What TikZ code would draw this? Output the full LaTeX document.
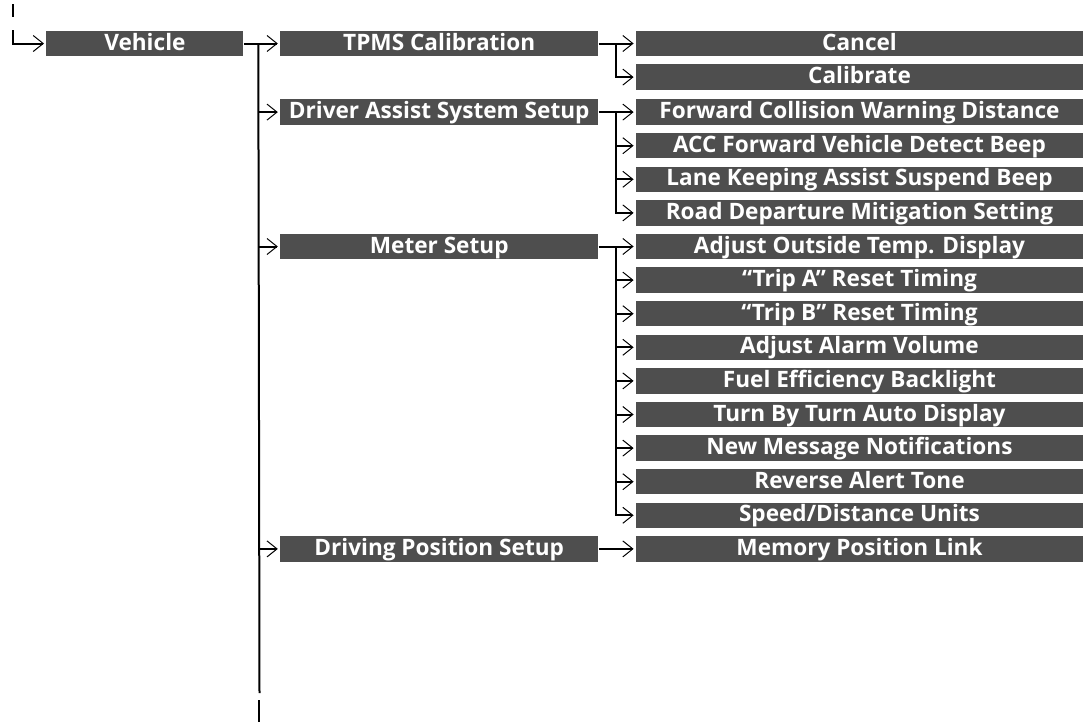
\documentclass[tikz,border=0pt]{standalone}
\usepackage{fontspec}
\setmainfont{Open Sans}
\usetikzlibrary{positioning,arrows.meta}
\definecolor{menugray}{RGB}{78,78,78}

\begin{document}
\begin{tikzpicture}
[x=0.5pt, y=-0.5pt, node distance=3.65pt, font=\bfseries\fontsize{11.3}{12}\selectfont]
\tikzstyle{item}=[fill=menugray, text=white, inner sep=0pt, minimum height=12.75pt, text height=8.1pt, text depth=1.6pt]
\tikzstyle{short}=[item, minimum width=98.5pt]
\tikzstyle{mid}=[item, minimum width=159pt]
\tikzstyle{wide}=[item, minimum width=223.5pt]
\tikzstyle{trunk}=[line width=1pt]
\tikzstyle{link}=[line width=1pt, -{Straight Barb[length=5pt, width=8pt, line width=0.5pt]}, shorten >=1pt]
\useasboundingbox (0,0) rectangle (1086,723);

% third level
\node[wide]	(T1)	at (859.5,43.5)					{Cancel};
\node[wide]	(T2)	[below=of T1]					{Calibrate};
\node[wide]	(D1)	[below=of T2, yshift=-0.7pt]	{Forward Collision Warning Distance};
\node[wide]	(D2)	[below=of D1]					{ACC Forward Vehicle Detect Beep};
\node[wide]	(D3)	[below=of D2]					{Lane Keeping Assist Suspend Beep};
\node[wide]	(D4)	[below=of D3]					{Road Departure Mitigation Setting};
\node[wide]	(M1)	[below=of D4]					{Adjust Outside Temp. Display};
\node[wide]	(M2)	[below=of M1]					{“Trip A” Reset Timing};
\node[wide]	(M3)	[below=of M2]					{“Trip B” Reset Timing};
\node[wide]	(M4)	[below=of M3]					{Adjust Alarm Volume};
\node[wide]	(M5)	[below=of M4]					{Fuel Efficiency Backlight};
\node[wide]	(M6)	[below=of M5]					{Turn By Turn Auto Display};
\node[wide]	(M7)	[below=of M6]					{New Message Notifications};
\node[wide]	(M8)	[below=of M7]					{Reverse Alert Tone};
\node[wide]	(M9)	[below=of M8]					{Speed/Distance Units};
\node[wide]	(P1)	[below=of M9]					{Memory Position Link};

% second level
\node[mid]	(T)		[left=18.5pt of T1]		{TPMS Calibration};
\node[mid]	(D)		[left=18.5pt of D1]		{Driver Assist System Setup};
\node[mid]	(M)		[left=18.5pt of M1]		{Meter Setup};
\node[mid]	(P)		[left=18.5pt of P1]		{Driving Position Setup};

% first level
\node[short]	(V)	[left=18pt of T]		{Vehicle};

\coordinate	(s0)	at (13,4);
\coordinate	(s1)	at (13,17);
\coordinate	(s2)	at (13,30);
\coordinate	(v0)	at ([xshift=7.25pt]V.east);
\coordinate	(v1)	at (259.5,693);
\coordinate	(e0)	at (258.5,700);
\coordinate	(e1)	at (258.5,722);
\coordinate	(t0)	at ([xshift=8.5pt]T.east);
\coordinate	(d0)	at ([xshift=8.5pt]D.east);
\coordinate	(m0)	at ([xshift=8.5pt]M.east);

\draw [trunk] (s0)--(s1);
\draw [link] (s2) |- (V);
\draw [trunk] (v0)--(v1);
\draw [trunk] (e0)--(e1);
\draw [link] (V)--(T);
\draw [link] (v0 |- D)--(D);
\draw [link] (v0 |- M)--(M);
\draw [link] (v0 |- P)--(P);

\draw [link] (T)--(T1);
\draw [link] (t0) |- (T2);

\draw [link] (D)--(D1);
\draw [link] (d0) |- (D2);
\draw [link] (d0) |- (D3);
\draw [link] (d0) |- (D4);

\draw [link] (M)--(M1);
\draw [link] (m0) |- (M2);
\draw [link] (m0) |- (M3);
\draw [link] (m0) |- (M4);
\draw [link] (m0) |- (M5);
\draw [link] (m0) |- (M6);
\draw [link] (m0) |- (M7);
\draw [link] (m0) |- (M8);
\draw [link] (m0) |- (M9);

\draw [link] (P)--(P1);
\end{tikzpicture}
\end{document}
